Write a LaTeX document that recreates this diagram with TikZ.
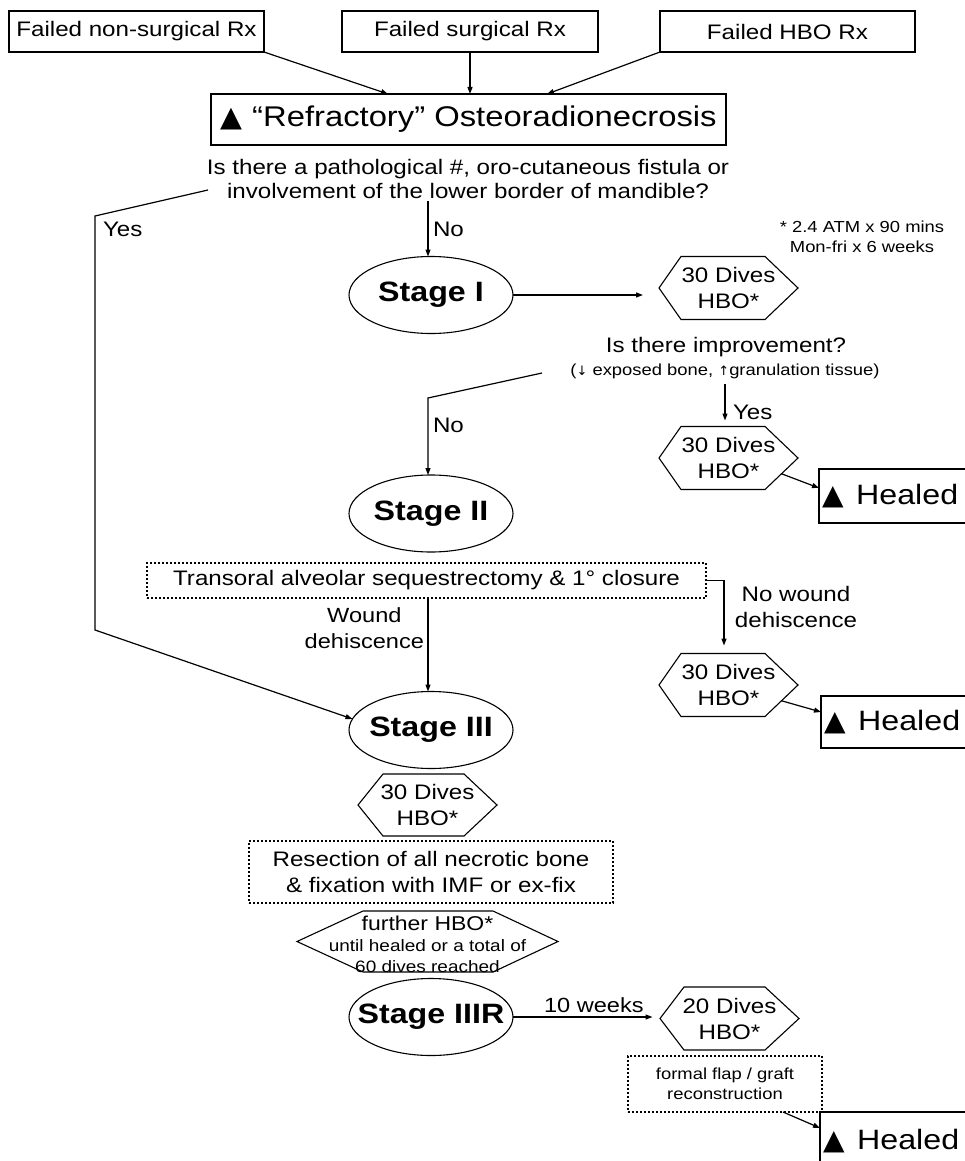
\documentclass[tikz,border=0pt]{standalone}
\usepackage{fontspec}
\setmainfont{Liberation Sans}[FakeStretch=1.15]
\newfontfamily\symf{DejaVu Sans}
\usetikzlibrary{arrows.meta,calc,shapes.geometric}
\newcommand\tri{{\symf ▲}}
\newcommand\fs[2]{\fontsize{#1}{#2}\selectfont}
\newcommand\hexdraw[3]{\draw[hexline] (#1.west) -- ([xshift=#2]#1.north west) -- ([xshift=-#3]#1.north east) -- (#1.east) -- ([xshift=-#3]#1.south east) -- ([xshift=#2]#1.south west) -- cycle;}
\begin{document}
\begin{tikzpicture}[x=1pt,y=-1pt,
  every node/.style={inner sep=0pt, outer sep=0pt},
  ln/.style={line width=1.2pt, draw=black},
  arr/.style={ln, -{Triangle[length=7pt,width=5pt]}},
  topbox/.style={draw, line width=1.2pt, minimum width=255pt, minimum height=41pt, font=\fs{21}{25}},
  stage/.style={ellipse, draw, line width=1.1pt, minimum width=164pt, minimum height=77pt},
  stagetxt/.style={font=\bfseries\fs{28}{32}},
  hex/.style={minimum width=139pt, minimum height=63pt, align=center, font=\fs{21}{26}},
  hexline/.style={line width=1.1pt},
  dotbox/.style={draw, line width=1.5pt, dash pattern=on 1.8pt off 2.2pt, align=center},
  healbox/.style={draw, line width=1.2pt, font=\fs{28}{32}, text width=155pt, inner xsep=3pt, align=left, anchor=west},
  lab/.style={font=\fs{21}{26}}
]
\useasboundingbox (0,0) rectangle (965,1161);
\fill[white] (0,0) rectangle (965,1161);

% top boxes
\node[topbox] (b1) at (136.5,31.5) {Failed non-surgical Rx};
\node[topbox, minimum width=256pt] (b2) at (470,31.5) {Failed surgical Rx};
\node[topbox] (b3) at (787.5,31.5) {Failed HBO Rx};

\node[draw, line width=1.2pt, minimum width=515pt, minimum height=51pt, font=\fs{28.5}{32}] (refr) at (468.5,119.5) {\tri\hspace{0.35em}“Refractory” Osteoradionecrosis};

\draw[arr] (b1.south east) -- ([xshift=-80.5pt]refr.north);
\draw[arr] (b2.south) -- (b2.south |- refr.north);
\draw[arr] (b3.south west) -- ([xshift=78.5pt]refr.north);

\node[font=\fs{21}{24}, align=center] (q) at (468,179) {Is there a pathological \#, oro-cutaneous fistula or\\involvement of the lower border of mandible?};

\node[font=\fs{16}{20}, align=center] (fn) at (862,237) {* 2.4 ATM x 90 mins\\Mon-fri x 6 weeks};

% stages
\node[stage, label={[stagetxt]center:Stage I}] (s1) at (431,295) {};
\node[stage, label={[stagetxt]center:Stage II}] (s2) at (431,513.5) {};
\node[stage, label={[stagetxt]center:Stage III}] (s3) at (431,730) {};
\node[stage, label={[stagetxt]center:Stage IIIR}] (s3r) at (431,1017) {};

% hexagons
\node[hex] (h1) at (728.5,288) {30 Dives\\HBO*};
\node[hex] (h2) at (728.5,458) {30 Dives\\HBO*};
\node[hex] (h4) at (728.5,685) {30 Dives\\HBO*};
\node[hex, minimum height=62pt] (h3) at (427.5,805) {30 Dives\\HBO*};
\node[hex, minimum width=261pt, minimum height=61pt, font=\fs{16.5}{20.5}] (h5) at (427.5,941.5) {};
\node[font=\fs{16.5}{20.5}, align=center] (h5txt) at (427.5,944) {{\fs{20}{23}further HBO*}\\[1pt]until healed or a total of\\60 dives reached};
\node[hex] (h6) at (729.5,1018.5) {20 Dives\\HBO*};
\hexdraw{h1}{22pt}{33pt}
\hexdraw{h2}{22pt}{33pt}
\hexdraw{h4}{22pt}{33pt}
\hexdraw{h3}{25pt}{33pt}
\hexdraw{h5}{66pt}{65pt}
\hexdraw{h6}{24pt}{34pt}

% improvement question
\node[font=\fs{21}{24}] (imp) at (726,347) {Is there improvement?};
\node[font=\fs{16}{19}] (impsub) at (725,371) {({\symf\fs{13}{16}↓} exposed bone, {\symf\fs{13}{16}↑}granulation tissue)};

% healed boxes
\node[healbox, minimum height=54pt] (heal1) at (819,496) {\tri\hspace{0.45em}Healed};
\node[healbox, minimum height=52pt] (heal2) at (821,722) {\tri\hspace{0.45em}Healed};
\node[healbox, minimum height=58pt] (heal3) at (820,1141) {\tri\hspace{0.45em}Healed};

% dotted boxes
\node[dotbox, minimum width=559pt, minimum height=35pt, font=\fs{21}{26}] (trans) at (426.5,580.5) {Transoral alveolar sequestrectomy \& 1° closure};
\node[dotbox, minimum width=364pt, minimum height=62pt, font=\fs{21}{26}] (res) at (431,872) {Resection of all necrotic bone\\\& fixation with IMF or ex-fix};
\node[dotbox, minimum width=194pt, minimum height=56pt, font=\fs{16}{20}] (fb) at (725,1084) {formal flap / graft\\reconstruction};

% coordinates
\coordinate (qno) at (428,201);
\coordinate (qyes) at (208,190);
\coordinate (yb1) at (95,216);
\coordinate (yb2) at (95,630);
\coordinate (impno) at (542,373);
\coordinate (nob) at (428,398);
\coordinate (impyes) at (725,384);
\coordinate (nwb) at (724,580.5);

% connectors
\draw[arr] (qyes) -- (yb1) -- (yb2) -- (s3.172);
\draw[arr] (qno) -- (qno |- s1.north);
\draw[arr, shorten >=16pt] (s1.east) -- (s1.east -| h1.west);
\draw[arr] (impno) -- (nob) -- (nob |- s2.north);
\draw[arr, shorten >=6pt] (impyes) -- (impyes |- h2.north);
\draw[arr] ($(h2.east)!0.5!([xshift=-33pt]h2.south east)$) -- ([yshift=8pt]heal1.west);
\draw[arr] (trans.south -| nob) -- (s3.north -| nob);
\draw[arr, shorten >=8pt] (trans.east) -- (nwb) -- (nwb |- h4.north);
\draw[arr] ($(h4.east)!0.5!([xshift=-33pt]h4.south east)$) -- ([yshift=10pt]heal2.west);
\draw[arr, shorten >=7.5pt] (s3r.east) -- (s3r.east -| h6.west) node[pos=0.55, above=4pt, font=\fs{20.5}{24}] (tenw) {10 weeks};
\draw[arr] ([xshift=58pt]fb.south) -- ([yshift=13pt]heal3.west);

% labels
\node[lab, anchor=west] (yeslab) at (103,229) {Yes};
\node[lab, anchor=west] (nolab1) at (433,229) {No};
\node[lab, anchor=west] (nolab2) at (433,425) {No};
\node[lab, anchor=west] (yeslab2) at (733,412) {Yes};
\node[lab, align=center, anchor=east, font=\fs{20.5}{26}] (wd) at (424,628) {Wound\\dehiscence};
\node[lab, align=center] (nwd) at (796,607) {No wound\\dehiscence};
\end{tikzpicture}
\end{document}
